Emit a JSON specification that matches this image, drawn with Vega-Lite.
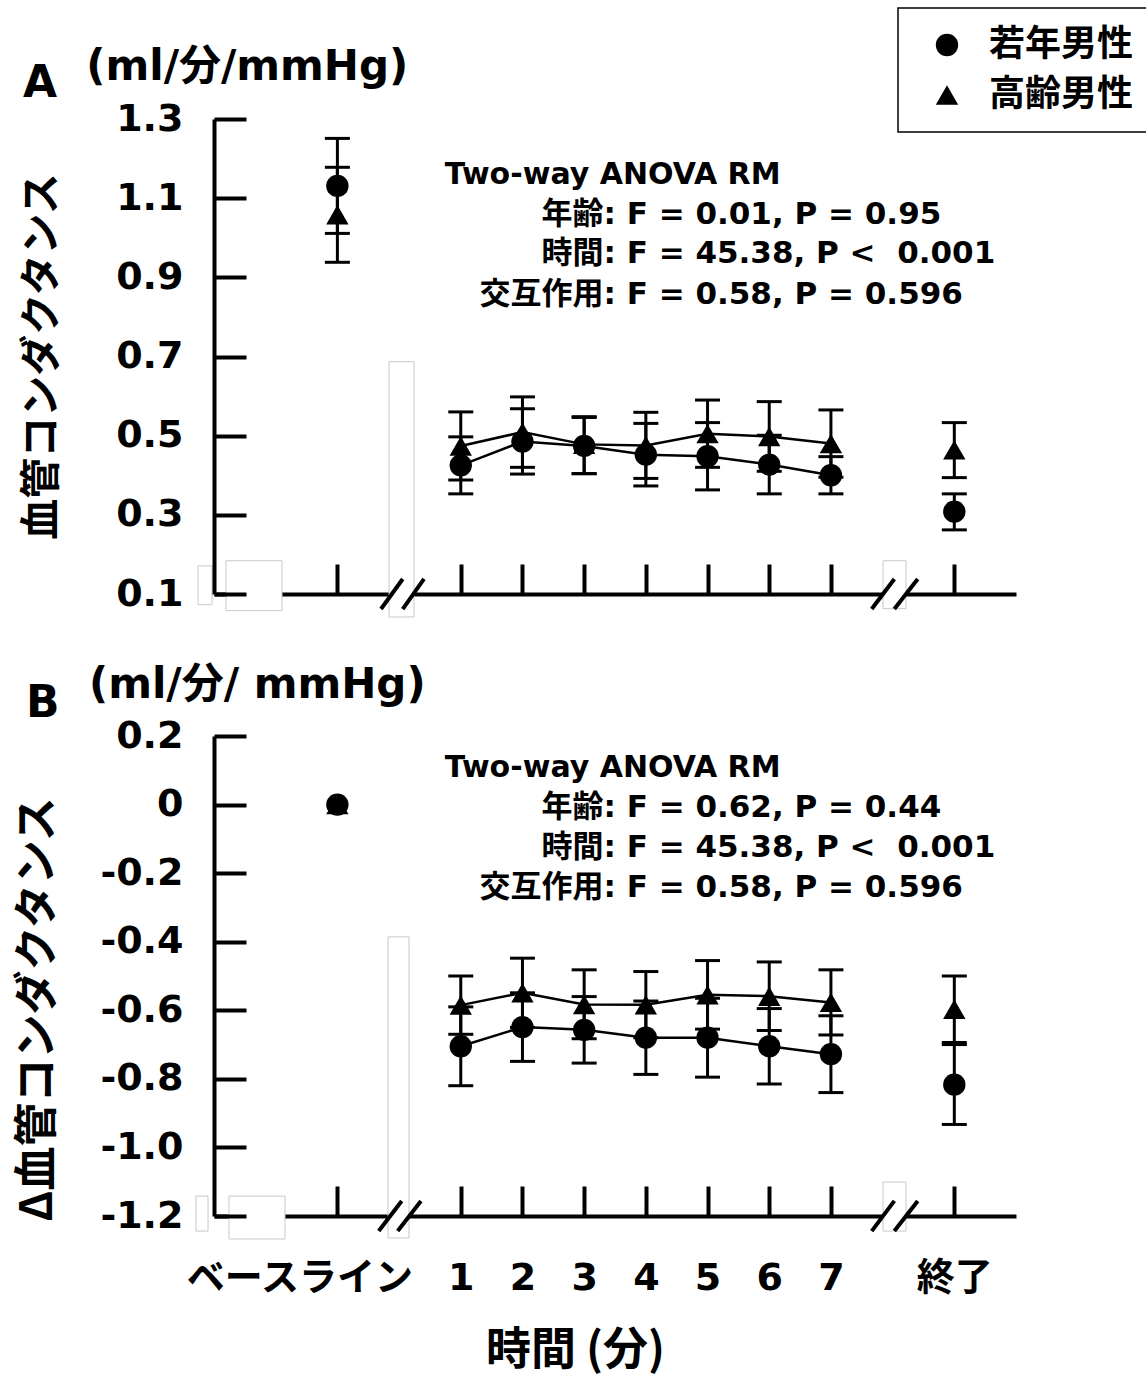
{
  "$schema": "https://vega.github.io/schema/vega-lite/v6.json",
  "background": "white",
  "padding": {"left": 15, "top": 7, "right": 0, "bottom": 3},
  "bounds": "flush",
  "spacing": 142,
  "config": {
    "view": {"stroke": null},
    "font": "DejaVu Sans",
    "axis": {"grid": false, "domainColor": "black", "tickColor": "black", "labelColor": "black", "titleColor": "black", "labelOverlap": false, "labelFlush": false, "labelLimit": 400},
    "legend": {"strokeColor": "black", "strokeWidth": 1.5, "fillColor": "white", "padding": 19, "symbolOffset": 12, "symbolSize": 500, "symbolStrokeWidth": 0, "labelFont": "Noto Sans CJK JP", "labelFontSize": 36, "labelFontWeight": "bold", "labelColor": "black", "labelOffset": 24, "rowPadding": 14}
  },
  "datasets": {
    "A": [
      {"t": -1, "g": "若年男性", "m": 1.131, "lo": 1.011, "hi": 1.251},
      {"t": -1, "g": "高齢男性", "m": 1.058, "lo": 0.938, "hi": 1.178},
      {"t": 1, "g": "若年男性", "m": 0.425, "lo": 0.353, "hi": 0.497},
      {"t": 1, "g": "高齢男性", "m": 0.474, "lo": 0.388, "hi": 0.560},
      {"t": 2, "g": "若年男性", "m": 0.485, "lo": 0.403, "hi": 0.568},
      {"t": 2, "g": "高齢男性", "m": 0.509, "lo": 0.420, "hi": 0.598},
      {"t": 3, "g": "若年男性", "m": 0.474, "lo": 0.404, "hi": 0.546},
      {"t": 3, "g": "高齢男性", "m": 0.478, "lo": 0.404, "hi": 0.548},
      {"t": 4, "g": "若年男性", "m": 0.452, "lo": 0.373, "hi": 0.531},
      {"t": 4, "g": "高齢男性", "m": 0.475, "lo": 0.392, "hi": 0.559},
      {"t": 5, "g": "若年男性", "m": 0.448, "lo": 0.363, "hi": 0.533},
      {"t": 5, "g": "高齢男性", "m": 0.505, "lo": 0.420, "hi": 0.590},
      {"t": 6, "g": "若年男性", "m": 0.427, "lo": 0.353, "hi": 0.501},
      {"t": 6, "g": "高齢男性", "m": 0.498, "lo": 0.410, "hi": 0.586},
      {"t": 7, "g": "若年男性", "m": 0.400, "lo": 0.353, "hi": 0.447},
      {"t": 7, "g": "高齢男性", "m": 0.480, "lo": 0.395, "hi": 0.565},
      {"t": 9, "g": "若年男性", "m": 0.308, "lo": 0.262, "hi": 0.353},
      {"t": 9, "g": "高齢男性", "m": 0.464, "lo": 0.394, "hi": 0.533}
    ],
    "B": [
      {"t": -1, "g": "若年男性", "m": 0, "lo": null, "hi": null},
      {"t": -1, "g": "高齢男性", "m": 0, "lo": null, "hi": null},
      {"t": 1, "g": "若年男性", "m": -0.705, "lo": -0.820, "hi": -0.590},
      {"t": 1, "g": "高齢男性", "m": -0.585, "lo": -0.670, "hi": -0.500},
      {"t": 2, "g": "若年男性", "m": -0.649, "lo": -0.749, "hi": -0.549},
      {"t": 2, "g": "高齢男性", "m": -0.549, "lo": -0.650, "hi": -0.448},
      {"t": 3, "g": "若年男性", "m": -0.657, "lo": -0.754, "hi": -0.560},
      {"t": 3, "g": "高齢男性", "m": -0.583, "lo": -0.683, "hi": -0.482},
      {"t": 4, "g": "若年男性", "m": -0.680, "lo": -0.787, "hi": -0.573},
      {"t": 4, "g": "高齢男性", "m": -0.584, "lo": -0.680, "hi": -0.487},
      {"t": 5, "g": "若年男性", "m": -0.680, "lo": -0.795, "hi": -0.565},
      {"t": 5, "g": "高齢男性", "m": -0.555, "lo": -0.655, "hi": -0.455},
      {"t": 6, "g": "若年男性", "m": -0.705, "lo": -0.815, "hi": -0.595},
      {"t": 6, "g": "高齢男性", "m": -0.559, "lo": -0.659, "hi": -0.459},
      {"t": 7, "g": "若年男性", "m": -0.728, "lo": -0.840, "hi": -0.616},
      {"t": 7, "g": "高齢男性", "m": -0.577, "lo": -0.672, "hi": -0.482},
      {"t": 9, "g": "若年男性", "m": -0.817, "lo": -0.933, "hi": -0.700},
      {"t": 9, "g": "高齢男性", "m": -0.597, "lo": -0.694, "hi": -0.500}
    ],
    "boxA": [
      {"t": -3.259, "t2": -3.032, "v": 0.171, "v2": 0.073},
      {"t": -2.805, "t2": -1.898, "v": 0.184, "v2": 0.058},
      {"t": -0.163, "t2": 0.242, "v": 0.687, "v2": 0.042},
      {"t": 7.845, "t2": 8.217, "v": 0.184, "v2": 0.063}
    ],
    "boxB": [
      {"t": -3.292, "t2": -3.097, "v": -1.142, "v2": -1.244},
      {"t": -2.757, "t2": -1.849, "v": -1.142, "v2": -1.267},
      {"t": -0.179, "t2": 0.161, "v": -0.386, "v2": -1.264},
      {"t": 7.845, "t2": 8.217, "v": -1.101, "v2": -1.244}
    ],
    "slashA": [
      {"t": -0.293, "t2": 0.059, "v": 0.062, "v2": 0.138},
      {"t": 0.059, "t2": 0.404, "v": 0.062, "v2": 0.138},
      {"t": 7.661, "t2": 8.028, "v": 0.062, "v2": 0.138},
      {"t": 8.028, "t2": 8.407, "v": 0.062, "v2": 0.138}
    ],
    "slashB": [
      {"t": -0.330, "t2": 0.043, "v": -1.244, "v2": -1.156},
      {"t": -0.022, "t2": 0.355, "v": -1.244, "v2": -1.156},
      {"t": 7.661, "t2": 8.028, "v": -1.244, "v2": -1.156},
      {"t": 8.028, "t2": 8.407, "v": -1.244, "v2": -1.156}
    ],
    "txtA": [
      {"k": "head", "t": 0.74, "v": 1.159, "s": "Two-way ANOVA RM"},
      {"k": "lab", "t": 3.515, "v": 1.058, "s": "年齢:"},
      {"k": "val", "t": 3.69, "v": 1.058, "s": "F = 0.01, P = 0.95"},
      {"k": "lab", "t": 3.515, "v": 0.960, "s": "時間:"},
      {"k": "val", "t": 3.69, "v": 0.960, "s": "F = 45.38, P < \u00a00.001"},
      {"k": "lab", "t": 3.515, "v": 0.856, "s": "交互作用:"},
      {"k": "val", "t": 3.69, "v": 0.856, "s": "F = 0.58, P = 0.596"},
      {"k": "unit", "t": -5.07, "v": 1.431, "s": "(ml/分/mmHg)"},
      {"k": "panel", "t": -6.096, "v": 1.389, "s": "A"}
    ],
    "txtB": [
      {"k": "head", "t": 0.74, "v": 0.1067, "s": "Two-way ANOVA RM"},
      {"k": "lab", "t": 3.515, "v": -0.010, "s": "年齢:"},
      {"k": "val", "t": 3.69, "v": -0.010, "s": "F = 0.62, P = 0.44"},
      {"k": "lab", "t": 3.515, "v": -0.1267, "s": "時間:"},
      {"k": "val", "t": 3.69, "v": -0.1267, "s": "F = 45.38, P < \u00a00.001"},
      {"k": "lab", "t": 3.515, "v": -0.2433, "s": "交互作用:"},
      {"k": "val", "t": 3.69, "v": -0.2433, "s": "F = 0.58, P = 0.596"},
      {"k": "unit", "t": -5.026, "v": 0.349, "s": "(ml/分/ mmHg)"},
      {"k": "panel", "t": -6.047, "v": 0.2933, "s": "B"}
    ]
  },
  "resolve": {"scale": {"shape": "shared"}, "legend": {"shape": "shared"}},
  "vconcat": [
    {
      "width": 802,
      "height": 475,
      "layer": [
        {"data": {"name": "boxA"}, "mark": {"type": "rect", "fill": "white", "stroke": "#c8c8c8", "strokeWidth": 1},
          "encoding": {"x": {"field": "t", "type": "quantitative", "scale": {"domain": [-3, 10], "nice": false, "zero": false}}, "x2": {"field": "t2"},
            "y": {"field": "v", "type": "quantitative", "scale": {"domain": [0.1, 1.3], "nice": false, "zero": false}}, "y2": {"field": "v2"}}},
        {"data": {"name": "slashA"}, "mark": {"type": "rule", "strokeWidth": 4, "color": "black"},
          "encoding": {"x": {"field": "t", "type": "quantitative", "scale": {"domain": [-3, 10], "nice": false, "zero": false}}, "x2": {"field": "t2"},
            "y": {"field": "v", "type": "quantitative", "scale": {"domain": [0.1, 1.3], "nice": false, "zero": false}}, "y2": {"field": "v2"}}},
        {"data": {"name": "A"}, "mark": {"type": "rule", "strokeWidth": 3, "color": "black"},
          "encoding": {"x": {"field": "t", "type": "quantitative", "scale": {"domain": [-3, 10], "nice": false, "zero": false}},
            "y": {"field": "lo", "type": "quantitative", "scale": {"domain": [0.1, 1.3], "nice": false, "zero": false}}, "y2": {"field": "hi"}}},
        {"data": {"name": "A"}, "mark": {"type": "tick", "orient": "horizontal", "size": 25, "thickness": 3, "color": "black", "opacity": 1},
          "encoding": {"x": {"field": "t", "type": "quantitative", "scale": {"domain": [-3, 10], "nice": false, "zero": false}},
            "y": {"field": "lo", "type": "quantitative", "scale": {"domain": [0.1, 1.3], "nice": false, "zero": false}}}},
        {"data": {"name": "A"}, "mark": {"type": "tick", "orient": "horizontal", "size": 25, "thickness": 3, "color": "black", "opacity": 1},
          "encoding": {"x": {"field": "t", "type": "quantitative", "scale": {"domain": [-3, 10], "nice": false, "zero": false}},
            "y": {"field": "hi", "type": "quantitative", "scale": {"domain": [0.1, 1.3], "nice": false, "zero": false}}}},
        {"data": {"name": "A"}, "transform": [{"filter": "datum.t >= 1 && datum.t <= 7"}], "mark": {"type": "line", "strokeWidth": 2.5, "color": "black"},
          "encoding": {"x": {"field": "t", "type": "quantitative", "scale": {"domain": [-3, 10], "nice": false, "zero": false}},
            "y": {"field": "m", "type": "quantitative", "scale": {"domain": [0.1, 1.3], "nice": false, "zero": false}}, "detail": {"field": "g"}}},
        {"data": {"name": "A"}, "mark": {"type": "point", "filled": true, "opacity": 1, "size": 500, "color": "black"},
          "encoding": {
            "x": {"field": "t", "type": "quantitative", "title": null, "scale": {"domain": [-3, 10], "nice": false, "zero": false},
              "axis": {"values": [-1, 1, 2, 3, 4, 5, 6, 7, 9], "labels": false, "tickSize": -30, "tickWidth": 4, "domainWidth": 4, "zindex": 0}},
            "y": {"field": "m", "type": "quantitative", "title": "血管コンダクタンス", "scale": {"domain": [0.1, 1.3], "nice": false, "zero": false},
              "axis": {"values": [0.1, 0.3, 0.5, 0.7, 0.9, 1.1, 1.3], "format": ".1f", "tickSize": -32, "tickWidth": 4, "domainWidth": 4, "labelPadding": 63,
                "labelFont": "DejaVu Sans", "labelFontSize": 38, "labelFontWeight": "bold", "titleFont": "Noto Sans CJK JP", "titleFontSize": 41, "titleFontWeight": "bold",
                "titleAngle": -90, "titleX": -172, "titleY": 237, "titleAlign": "center", "titleBaseline": "middle", "zindex": 1}},
            "shape": {"field": "g", "type": "nominal", "scale": {"domain": ["若年男性", "高齢男性"], "range": ["circle", "triangle-up"]},
              "legend": {"title": null, "orient": "none", "legendX": 684, "legendY": -111}}
          }},
        {"data": {"name": "txtA"}, "transform": [{"filter": "datum.k == 'head'"}], "mark": {"type": "text", "align": "left", "baseline": "middle", "font": "DejaVu Sans", "fontSize": 30, "fontWeight": "bold", "color": "black"},
          "encoding": {"x": {"field": "t", "type": "quantitative", "scale": {"domain": [-3, 10], "nice": false, "zero": false}}, "y": {"field": "v", "type": "quantitative", "scale": {"domain": [0.1, 1.3], "nice": false, "zero": false}}, "text": {"field": "s"}}},
        {"data": {"name": "txtA"}, "transform": [{"filter": "datum.k == 'lab'"}], "mark": {"type": "text", "align": "right", "baseline": "middle", "font": "DejaVu Sans, Noto Sans CJK JP", "fontSize": 31, "fontWeight": "bold", "color": "black"},
          "encoding": {"x": {"field": "t", "type": "quantitative", "scale": {"domain": [-3, 10], "nice": false, "zero": false}}, "y": {"field": "v", "type": "quantitative", "scale": {"domain": [0.1, 1.3], "nice": false, "zero": false}}, "text": {"field": "s"}}},
        {"data": {"name": "txtA"}, "transform": [{"filter": "datum.k == 'val'"}], "mark": {"type": "text", "align": "left", "baseline": "middle", "font": "DejaVu Sans", "fontSize": 31, "fontWeight": "bold", "color": "black"},
          "encoding": {"x": {"field": "t", "type": "quantitative", "scale": {"domain": [-3, 10], "nice": false, "zero": false}}, "y": {"field": "v", "type": "quantitative", "scale": {"domain": [0.1, 1.3], "nice": false, "zero": false}}, "text": {"field": "s"}}},
        {"data": {"name": "txtA"}, "transform": [{"filter": "datum.k == 'unit'"}], "mark": {"type": "text", "align": "left", "baseline": "middle", "font": "DejaVu Sans, Noto Sans CJK JP", "fontSize": 42, "fontWeight": "bold", "color": "black"},
          "encoding": {"x": {"field": "t", "type": "quantitative", "scale": {"domain": [-3, 10], "nice": false, "zero": false}}, "y": {"field": "v", "type": "quantitative", "scale": {"domain": [0.1, 1.3], "nice": false, "zero": false}}, "text": {"field": "s"}}},
        {"data": {"name": "txtA"}, "transform": [{"filter": "datum.k == 'panel'"}], "mark": {"type": "text", "align": "left", "baseline": "middle", "font": "DejaVu Sans", "fontSize": 44, "fontWeight": "bold", "color": "black"},
          "encoding": {"x": {"field": "t", "type": "quantitative", "scale": {"domain": [-3, 10], "nice": false, "zero": false}}, "y": {"field": "v", "type": "quantitative", "scale": {"domain": [0.1, 1.3], "nice": false, "zero": false}}, "text": {"field": "s"}}}
      ]
    },
    {
      "width": 802,
      "height": 480,
      "layer": [
        {"data": {"name": "boxB"}, "mark": {"type": "rect", "fill": "white", "stroke": "#c8c8c8", "strokeWidth": 1},
          "encoding": {"x": {"field": "t", "type": "quantitative", "scale": {"domain": [-3, 10], "nice": false, "zero": false}}, "x2": {"field": "t2"},
            "y": {"field": "v", "type": "quantitative", "scale": {"domain": [-1.2, 0.2], "nice": false, "zero": false}}, "y2": {"field": "v2"}}},
        {"data": {"name": "slashB"}, "mark": {"type": "rule", "strokeWidth": 4, "color": "black"},
          "encoding": {"x": {"field": "t", "type": "quantitative", "scale": {"domain": [-3, 10], "nice": false, "zero": false}}, "x2": {"field": "t2"},
            "y": {"field": "v", "type": "quantitative", "scale": {"domain": [-1.2, 0.2], "nice": false, "zero": false}}, "y2": {"field": "v2"}}},
        {"data": {"name": "B"}, "mark": {"type": "rule", "strokeWidth": 3, "color": "black"},
          "encoding": {"x": {"field": "t", "type": "quantitative", "scale": {"domain": [-3, 10], "nice": false, "zero": false}},
            "y": {"field": "lo", "type": "quantitative", "scale": {"domain": [-1.2, 0.2], "nice": false, "zero": false}}, "y2": {"field": "hi"}}},
        {"data": {"name": "B"}, "mark": {"type": "tick", "orient": "horizontal", "size": 25, "thickness": 3, "color": "black", "opacity": 1},
          "encoding": {"x": {"field": "t", "type": "quantitative", "scale": {"domain": [-3, 10], "nice": false, "zero": false}},
            "y": {"field": "lo", "type": "quantitative", "scale": {"domain": [-1.2, 0.2], "nice": false, "zero": false}}}},
        {"data": {"name": "B"}, "mark": {"type": "tick", "orient": "horizontal", "size": 25, "thickness": 3, "color": "black", "opacity": 1},
          "encoding": {"x": {"field": "t", "type": "quantitative", "scale": {"domain": [-3, 10], "nice": false, "zero": false}},
            "y": {"field": "hi", "type": "quantitative", "scale": {"domain": [-1.2, 0.2], "nice": false, "zero": false}}}},
        {"data": {"name": "B"}, "transform": [{"filter": "datum.t >= 1 && datum.t <= 7"}], "mark": {"type": "line", "strokeWidth": 2.5, "color": "black"},
          "encoding": {"x": {"field": "t", "type": "quantitative", "scale": {"domain": [-3, 10], "nice": false, "zero": false}},
            "y": {"field": "m", "type": "quantitative", "scale": {"domain": [-1.2, 0.2], "nice": false, "zero": false}}, "detail": {"field": "g"}}},
        {"data": {"name": "B"}, "mark": {"type": "point", "filled": true, "opacity": 1, "size": 500, "color": "black"},
          "encoding": {
            "x": {"field": "t", "type": "quantitative", "title": "時間 (分)", "scale": {"domain": [-3, 10], "nice": false, "zero": false},
              "axis": {"values": [-1, 1, 2, 3, 4, 5, 6, 7, 9], "tickSize": -30, "tickWidth": 4, "domainWidth": 4, "zindex": 0, "labelPadding": 73,
                "labelExpr": "datum.value == -1 ? 'ベースライン' : datum.value == 9 ? '終了' : format(datum.value, 'd')",
                "labelOffset": {"condition": {"test": "datum.value == -1", "value": -38}, "value": 0},
                "labelFont": "DejaVu Sans, Noto Sans CJK JP", "labelFontSize": 38, "labelFontWeight": "bold",
                "titleFont": "Noto Sans CJK JP", "titleFontSize": 45, "titleFontWeight": "bold", "titleX": 361, "titleY": 134, "titleAlign": "center", "titleBaseline": "middle"}},
            "y": {"field": "m", "type": "quantitative", "title": "Δ血管コンダクタンス", "scale": {"domain": [-1.2, 0.2], "nice": false, "zero": false},
              "axis": {"values": [-1.2, -1.0, -0.8, -0.6, -0.4, -0.2, 0, 0.2],
                "labelExpr": "datum.value == 0 ? '0' : (datum.value < 0 ? '-' : '') + format(abs(datum.value), '.1f')",
                "tickSize": -32, "tickWidth": 4, "domainWidth": 4, "labelPadding": 63,
                "labelFont": "DejaVu Sans", "labelFontSize": 38, "labelFontWeight": "bold", "titleFont": "Noto Sans CJK JP", "titleFontSize": 44, "titleFontWeight": "bold",
                "titleAngle": -90, "titleX": -176, "titleY": 273, "titleAlign": "center", "titleBaseline": "middle", "zindex": 1}},
            "shape": {"field": "g", "type": "nominal", "scale": {"domain": ["若年男性", "高齢男性"], "range": ["circle", "triangle-up"]},
              "legend": {"title": null, "orient": "none", "legendX": 684, "legendY": -111}}
          }},
        {"data": {"name": "txtB"}, "transform": [{"filter": "datum.k == 'head'"}], "mark": {"type": "text", "align": "left", "baseline": "middle", "font": "DejaVu Sans", "fontSize": 30, "fontWeight": "bold", "color": "black"},
          "encoding": {"x": {"field": "t", "type": "quantitative", "scale": {"domain": [-3, 10], "nice": false, "zero": false}}, "y": {"field": "v", "type": "quantitative", "scale": {"domain": [-1.2, 0.2], "nice": false, "zero": false}}, "text": {"field": "s"}}},
        {"data": {"name": "txtB"}, "transform": [{"filter": "datum.k == 'lab'"}], "mark": {"type": "text", "align": "right", "baseline": "middle", "font": "DejaVu Sans, Noto Sans CJK JP", "fontSize": 31, "fontWeight": "bold", "color": "black"},
          "encoding": {"x": {"field": "t", "type": "quantitative", "scale": {"domain": [-3, 10], "nice": false, "zero": false}}, "y": {"field": "v", "type": "quantitative", "scale": {"domain": [-1.2, 0.2], "nice": false, "zero": false}}, "text": {"field": "s"}}},
        {"data": {"name": "txtB"}, "transform": [{"filter": "datum.k == 'val'"}], "mark": {"type": "text", "align": "left", "baseline": "middle", "font": "DejaVu Sans", "fontSize": 31, "fontWeight": "bold", "color": "black"},
          "encoding": {"x": {"field": "t", "type": "quantitative", "scale": {"domain": [-3, 10], "nice": false, "zero": false}}, "y": {"field": "v", "type": "quantitative", "scale": {"domain": [-1.2, 0.2], "nice": false, "zero": false}}, "text": {"field": "s"}}},
        {"data": {"name": "txtB"}, "transform": [{"filter": "datum.k == 'unit'"}], "mark": {"type": "text", "align": "left", "baseline": "middle", "font": "DejaVu Sans, Noto Sans CJK JP", "fontSize": 42, "fontWeight": "bold", "color": "black"},
          "encoding": {"x": {"field": "t", "type": "quantitative", "scale": {"domain": [-3, 10], "nice": false, "zero": false}}, "y": {"field": "v", "type": "quantitative", "scale": {"domain": [-1.2, 0.2], "nice": false, "zero": false}}, "text": {"field": "s"}}},
        {"data": {"name": "txtB"}, "transform": [{"filter": "datum.k == 'panel'"}], "mark": {"type": "text", "align": "left", "baseline": "middle", "font": "DejaVu Sans", "fontSize": 44, "fontWeight": "bold", "color": "black"},
          "encoding": {"x": {"field": "t", "type": "quantitative", "scale": {"domain": [-3, 10], "nice": false, "zero": false}}, "y": {"field": "v", "type": "quantitative", "scale": {"domain": [-1.2, 0.2], "nice": false, "zero": false}}, "text": {"field": "s"}}}
      ]
    }
  ]
}
